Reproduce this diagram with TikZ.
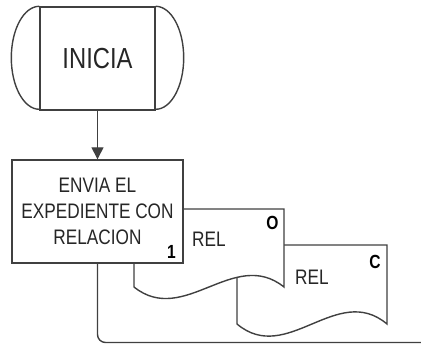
\documentclass[tikz,border=0pt]{standalone}
\usepackage{fontspec}
\setmainfont[FakeStretch=0.82]{Liberation Sans}
\usetikzlibrary{arrows.meta}
\definecolor{linegray}{HTML}{404040}
\definecolor{textgray}{HTML}{262626}

\tikzset{
  outline/.style={line width=1.4pt, draw=linegray},
  boxtext/.style={text=textgray, font=\fontsize{21}{26}\selectfont, inner sep=0pt},
  marktext/.style={text=black, font=\bfseries\fontsize{19}{20}\selectfont, inner sep=0pt}
}

\begin{document}
\begin{tikzpicture}[x=1pt, y=-1pt]
  \useasboundingbox (0,0) rectangle (421,345);
  % terminal
  \node[outline, minimum width=115, minimum height=103, text=textgray, font=\fontsize{29}{30}\selectfont] (inicia) at (97.5,58.5) {INICIA};
  \draw[outline] (inicia.north west) arc[start angle=90, end angle=270, x radius=28pt, y radius=51.5pt];
  \draw[outline] (inicia.north east) arc[start angle=90, end angle=-90, x radius=28pt, y radius=51.5pt];
  % copies
  \filldraw[outline, fill=white] (237,245) -- (387,245) -- (387,324) .. controls (337,282) and (287,366) .. (237,324) -- cycle;
  \node[boxtext, anchor=west] (rel2) at (295,277.5) {REL};
  \node[marktext] (copia) at (375,261.5) {C};
  \filldraw[outline, fill=white] (134,209) -- (284,209) -- (284,287) .. controls (234,247) and (184,327) .. (134,287) -- cycle;
  \node[boxtext, anchor=west] (rel1) at (192,239.5) {REL};
  \node[marktext] (original) at (272.5,223) {O};
  % activity
  \node[outline, fill=white, minimum width=171, minimum height=103, align=center, boxtext] (envia) at (97.5,211.5) {ENVIA EL\\EXPEDIENTE CON\\RELACION};
  \node[marktext] (paso) at (171.5,252) {1};
  \coordinate (fin) at (421,342.5);
  \draw[outline, -{Triangle[length=12pt, width=12pt]}] (inicia) -- (envia);
  \draw[outline, rounded corners=8pt] (envia.south) |- (fin);
\end{tikzpicture}
\end{document}
